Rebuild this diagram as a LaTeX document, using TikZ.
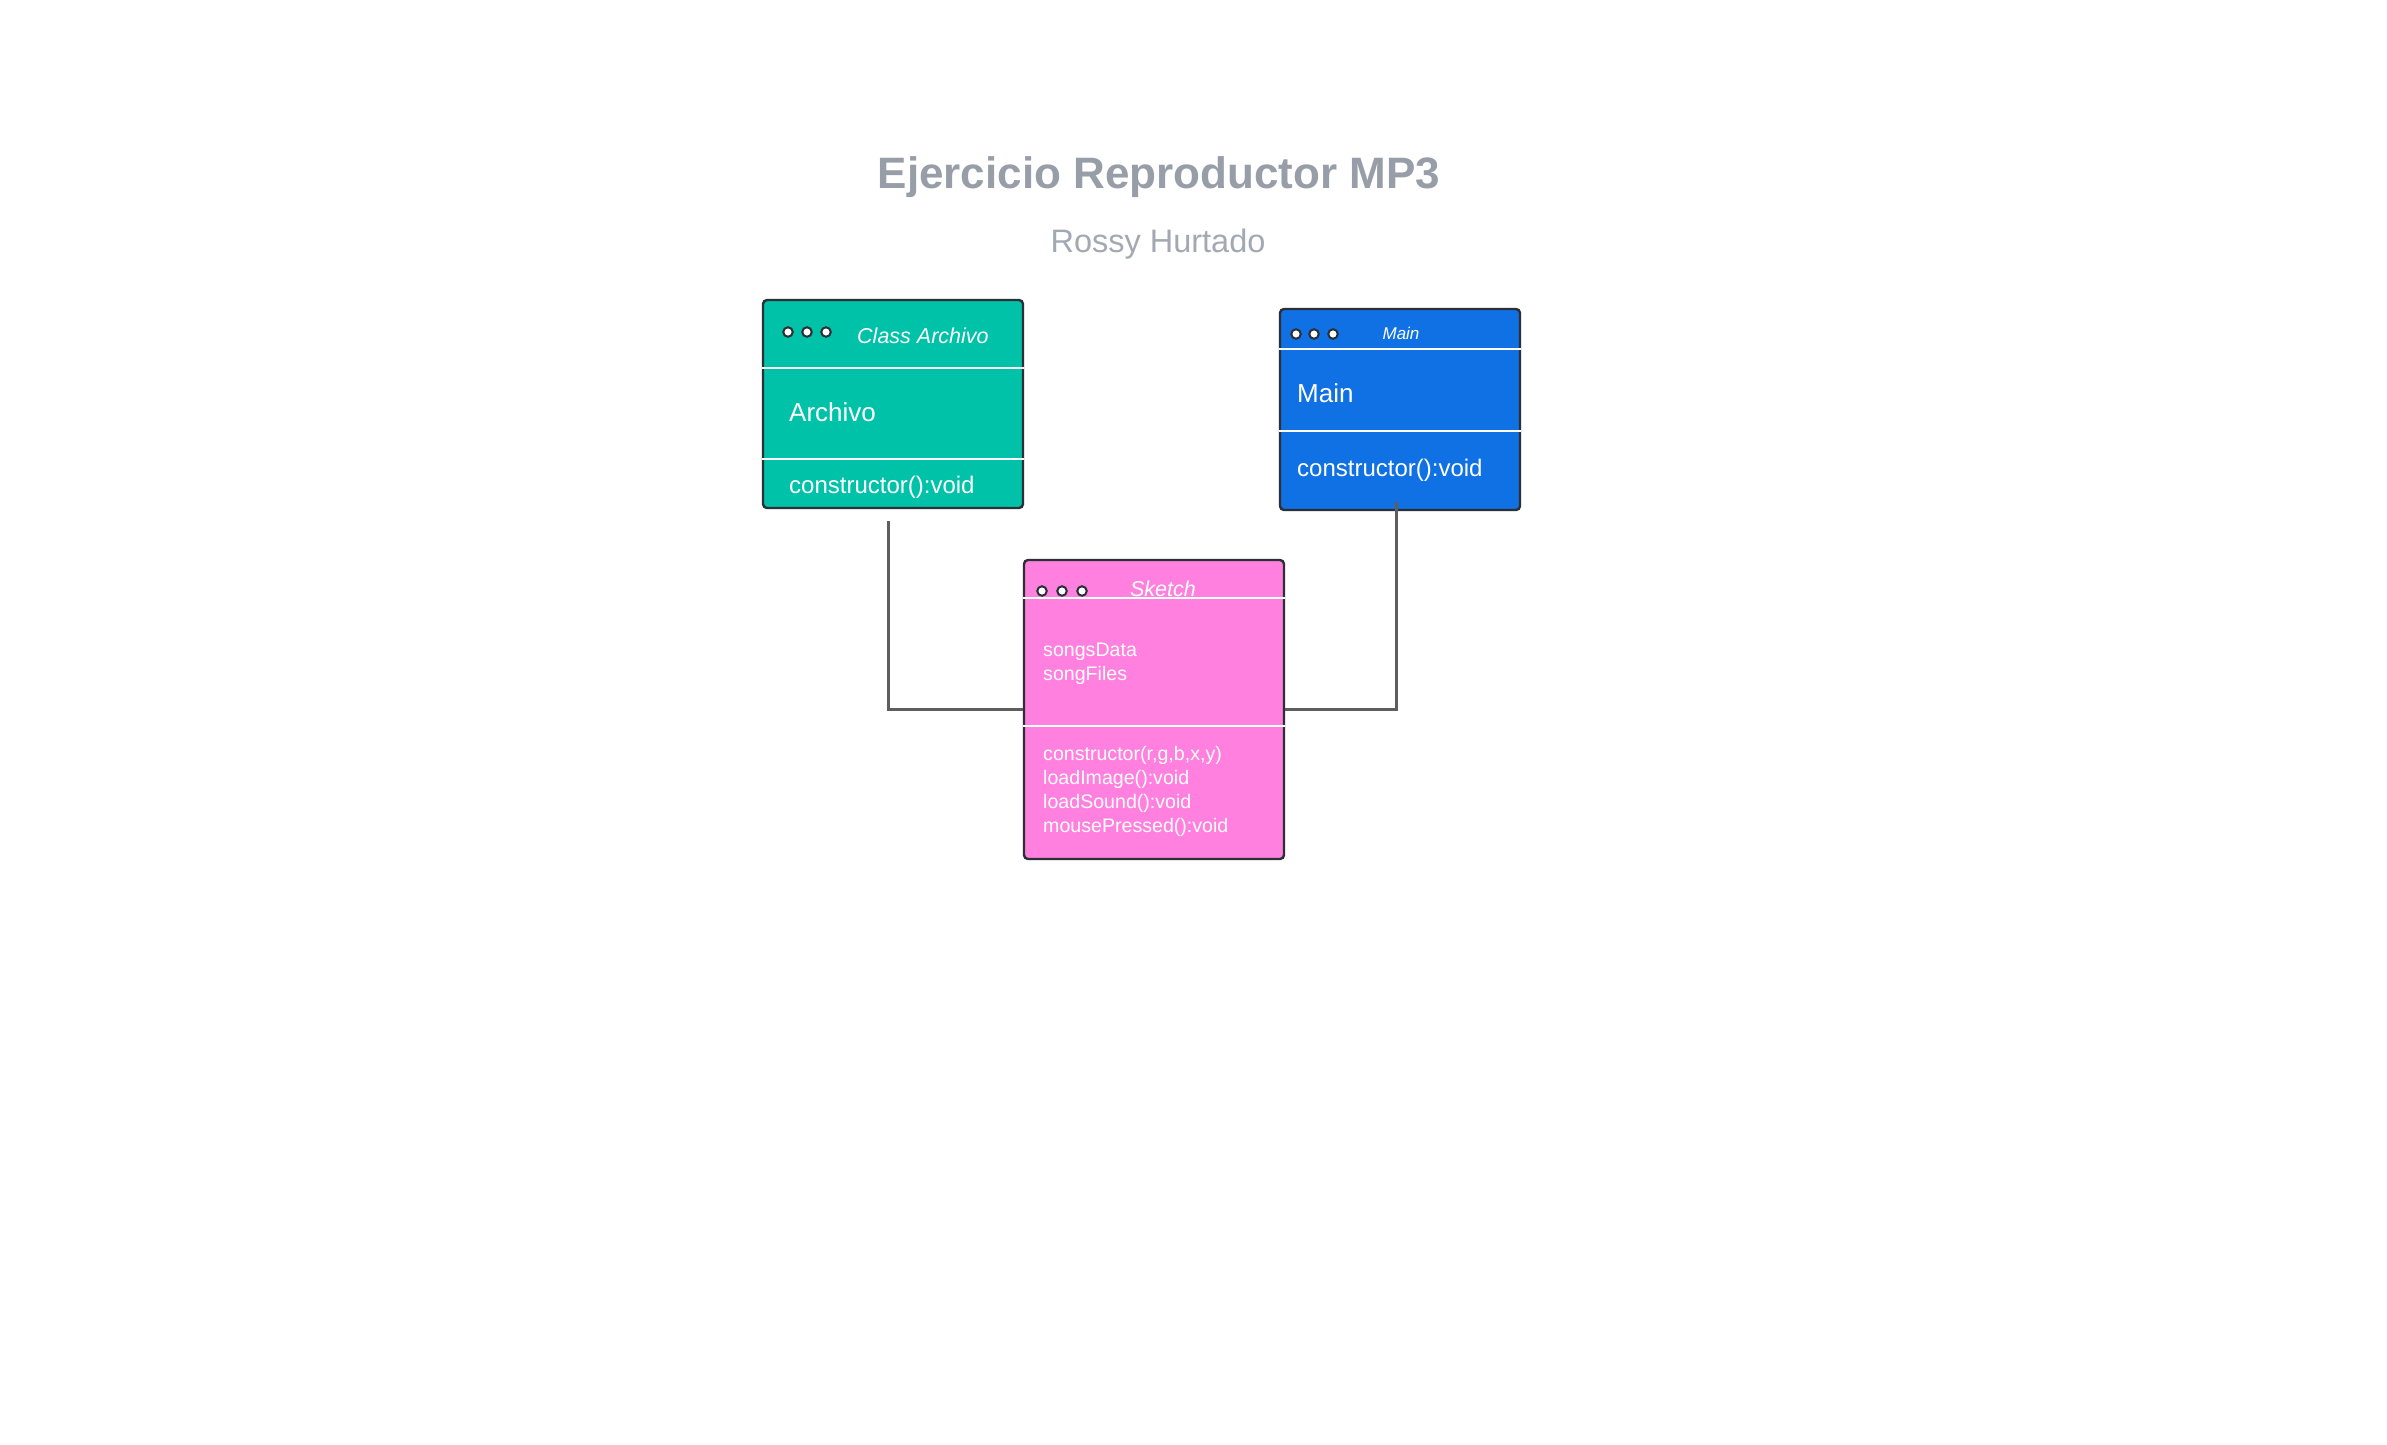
\documentclass[tikz,border=0pt]{standalone}
\usepackage{fontspec}
\setmainfont{Liberation Sans}
\definecolor{archteal}{HTML}{00C2A8}
\definecolor{mainblue}{HTML}{1071E5}
\definecolor{sketchpink}{HTML}{FF80DF}
\definecolor{linedark}{HTML}{2B2F36}
\definecolor{linkgray}{HTML}{5E5E5E}
\definecolor{titlegray}{HTML}{979EA8}
\definecolor{subgray}{HTML}{A3A9B3}
\tikzset{
  box/.style={draw=linedark, line width=2.4pt, rounded corners=4pt, inner sep=0pt},
  dot/.style={circle, draw=linedark, fill=white, line width=2pt, minimum size=9.5pt, inner sep=0pt},
  divider/.style={white, line width=2.2pt},
  link/.style={draw=linkgray, line width=3pt},
  boxtext/.style={text=white, anchor=base west, inner sep=0pt},
}
\begin{document}
\begin{tikzpicture}[x=1pt, y=-1pt]
\fill[white] (0,0) rectangle (2387,1444);
\useasboundingbox (0,0) rectangle (2387,1444);

\node[anchor=base, text=titlegray, font=\fontsize{44}{52}\selectfont\bfseries] (title) at (1159,188) {Ejercicio Reproductor MP3};
\node[anchor=base, text=subgray, font=\fontsize{32.5}{39}\selectfont] (author) at (1158,252) {Rossy Hurtado};

% Archivo
\node[box, fill=archteal, minimum width=260pt, minimum height=208pt] (archivo) at (893,404) {};
\draw[divider] (762,368) -- (1024,368);
\draw[divider] (762,459) -- (1024,459);
\node[dot] (ad1) at (788,332) {};
\node[dot] (ad2) at (807,332) {};
\node[dot] (ad3) at (826,332) {};
\node[boxtext, font=\fontsize{21.5}{26}\selectfont\itshape] (archhead) at (857,343) {Class Archivo};
\node[boxtext, font=\fontsize{26}{31}\selectfont] (archname) at (789,421) {Archivo};
\node[boxtext, font=\fontsize{24}{29}\selectfont] (archmeth) at (789,493) {constructor():void};

% Main
\node[box, fill=mainblue, minimum width=240pt, minimum height=201pt] (main) at (1400,409.5) {};
\draw[divider] (1279,349) -- (1521,349);
\draw[divider] (1279,431) -- (1521,431);
\node[dot] (md1) at (1296,334) {};
\node[dot] (md2) at (1314,334) {};
\node[dot] (md3) at (1333,334) {};
\node[text=white, anchor=base, inner sep=0pt, font=\fontsize{17}{20}\selectfont\itshape] (mainhead) at (1401,339) {Main};
\node[boxtext, font=\fontsize{26}{31}\selectfont] (mainname) at (1297,402) {Main};
\node[boxtext, font=\fontsize{24}{29}\selectfont] (mainmeth) at (1297,476) {constructor():void};

% Sketch
\node[box, fill=sketchpink, minimum width=260pt, minimum height=299pt] (sketch) at (1154,709.5) {};
\draw[divider] (1023,598) -- (1285,598);
\draw[divider] (1023,726) -- (1285,726);
\node[dot] (sd1) at (1042,591) {};
\node[dot] (sd2) at (1062,591) {};
\node[dot] (sd3) at (1082,591) {};
\node[text=white, anchor=base, inner sep=0pt, font=\fontsize{21.5}{26}\selectfont\itshape] (sketchhead) at (1163,596) {Sketch};
\node[boxtext, font=\fontsize{19.6}{23}\selectfont] (attr1) at (1043,656) {songsData};
\node[boxtext, font=\fontsize{19.6}{23}\selectfont] (attr2) at (1043,680) {songFiles};
\node[boxtext, font=\fontsize{19.6}{23}\selectfont] (meth1) at (1043,760) {constructor(r,g,b,x,y)};
\node[boxtext, font=\fontsize{19.6}{23}\selectfont] (meth2) at (1043,784) {loadImage():void};
\node[boxtext, font=\fontsize{19.6}{23}\selectfont] (meth3) at (1043,808) {loadSound():void};
\node[boxtext, font=\fontsize{19.6}{23}\selectfont] (meth4) at (1043,832) {mousePressed():void};

% connectors
\coordinate (archout) at (888,521);
\coordinate (mainout) at (1396,502);
\path[link] (archout) |- (sketch.west);
\path[link] (mainout) |- (sketch.east);
\end{tikzpicture}
\end{document}
